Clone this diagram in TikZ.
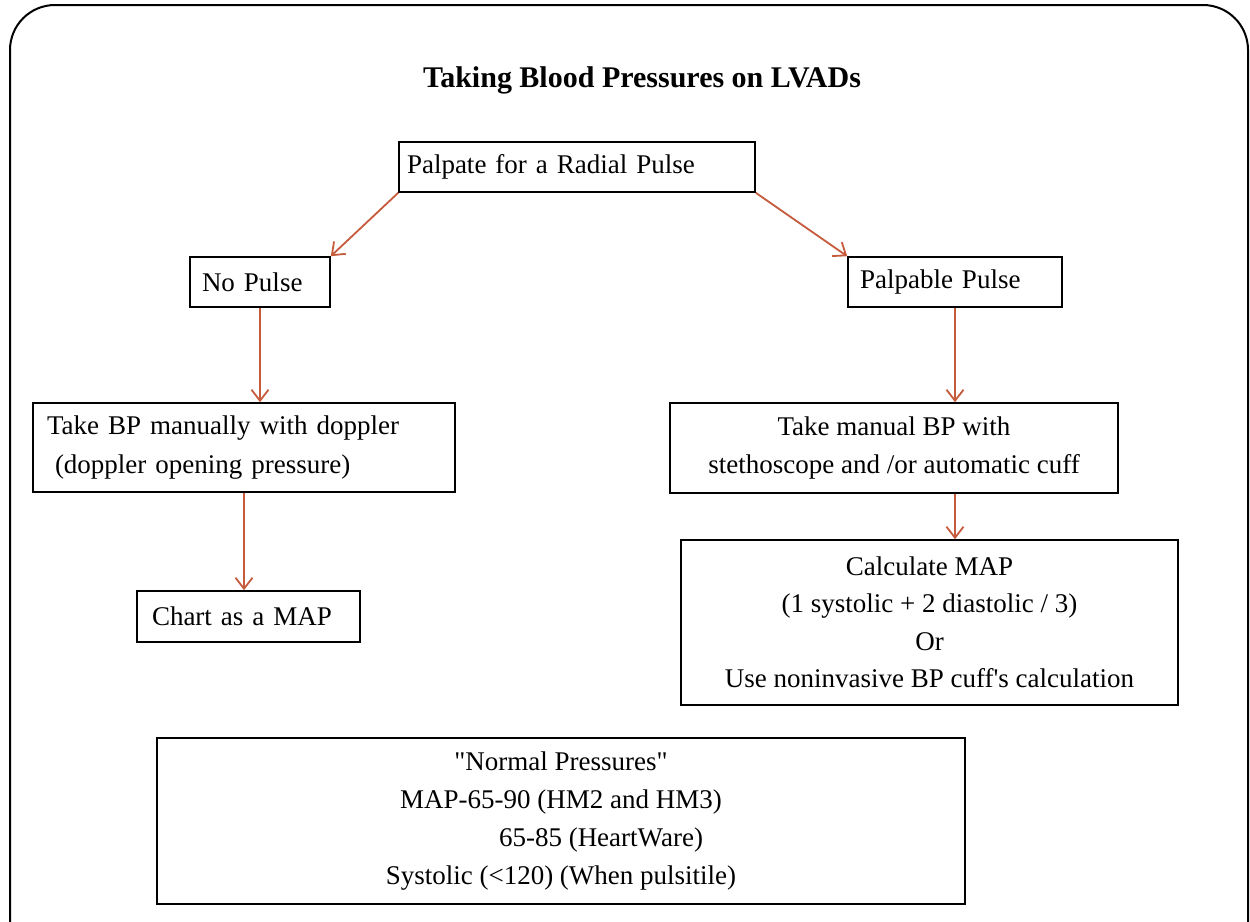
\documentclass[tikz,border=0pt]{standalone}
\usepackage{fontspec}
\setmainfont{Liberation Serif}
\usetikzlibrary{arrows.meta}
\definecolor{arr}{RGB}{197,90,60}
\begin{document}
\begin{tikzpicture}[x=1pt,y=-1pt,
 box/.style={draw=black,line width=1.6pt,rectangle,inner sep=0pt,font=\fontsize{27}{39}\selectfont},
 arrow/.style={draw=arr,line width=1.8pt,-{Straight Barb[length=11pt,width=17pt]}}]
\useasboundingbox (0,0) rectangle (1250,921);
\clip (0,0) rectangle (1250,921);
\draw[line width=2pt, rounded corners=45pt] (10,5) rectangle (1248,990);
\node[font=\fontsize{30}{34}\selectfont\bfseries] (title) at (642,80) {Taking Blood Pressures on LVADs};
\node[box, minimum width=356pt, minimum height=50pt, text width=340pt, align=left] (palp) at (577,167) {Palpate for a Radial Pulse};
\node[box, minimum width=140pt, minimum height=50pt, text width=116pt, align=left] (nop) at (260,282) {No Pulse};
\node[box, minimum width=214pt, minimum height=50pt, text width=190pt, align=left] (pp) at (955,282) {Palpable Pulse};
\node[box, minimum width=422pt, minimum height=89pt, text width=394pt, align=left] (tbp) at (244,447.5) {Take BP manually with doppler\\\hspace*{8pt}(doppler opening pressure)};
\node[box, minimum width=448pt, minimum height=90pt, align=center] (tmb) at (894,448) {Take manual BP with\\stethoscope and /or automatic cuff};
\node[box, minimum width=223pt, minimum height=51pt, text width=193pt, align=left] (chart) at (248.5,616.5) {Chart as a MAP};
\node[box, minimum width=497pt, minimum height=165pt, align=center, font=\fontsize{27}{37.5}\selectfont] (calc) at (929.5,622.5) {Calculate MAP\\(1 systolic + 2 diastolic / 3)\\Or\\Use noninvasive BP cuff\textquotesingle s calculation};
\node[box, minimum width=808pt, minimum height=166pt, align=center, font=\fontsize{27}{38}\selectfont] (norm) at (561,821) {\textquotedbl Normal Pressures\textquotedbl\\MAP-65-90 (HM2 and HM3)\\\hspace*{80pt}65-85 (HeartWare)\\Systolic (<120) (When pulsitile)};
\draw[arrow] (palp.south west) -- (nop.north east);
\draw[arrow] (palp.south east) -- (pp.north west);
\draw[arrow] (nop.south) -- (nop.south |- tbp.north);
\draw[arrow] (pp.south) -- (pp.south |- tmb.north);
\draw[arrow] (tbp.south) -- (tbp.south |- chart.north);
\draw[arrow] (pp.south |- tmb.south) -- (pp.south |- calc.north);
\end{tikzpicture}
\end{document}
